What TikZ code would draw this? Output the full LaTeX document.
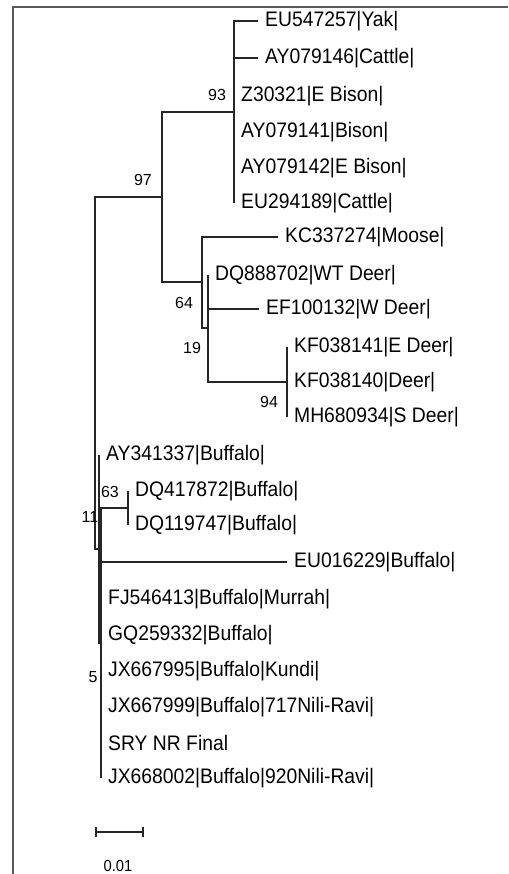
\documentclass[tikz,border=0pt]{standalone}
\usepackage{fontspec}
\setmainfont{Liberation Sans}
\newfontfamily\leaffont[FakeStretch=0.92]{Liberation Sans}
\tikzset{
  leaf/.style={anchor=west, inner xsep=7pt, inner ysep=0pt,
    font=\leaffont\fontsize{21}{24}\selectfont},
  boot/.style={inner sep=0pt, font=\fontsize{16}{18}\selectfont},
  branch/.style={line width=1.1pt, black!85}
}
\begin{document}
\begin{tikzpicture}[x=1pt, y=-1pt]
    \useasboundingbox (0,0) rectangle (508,874);
    % 1. Khung
    \draw[gray!70!black, line width=1.5pt] (508,7) -- (13,7) -- (13,874);

    % 2. Nut trong
    \coordinate (nroot) at (95,373);
    \coordinate (n97) at (162,197);
    \coordinate (n93) at (234,112);
    \coordinate (n64) at (202,282);
    \coordinate (n19) at (208,328);
    \coordinate (n94) at (287,382);
    \coordinate (n11) at (99,549);
    \coordinate (n5) at (101,643);
    \coordinate (n63) at (128,508);

    % 3. Cac la
    \node[leaf] (yak)    at (258,21)  {EU547257|Yak|};
    \node[leaf] (cat1)   at (258,58)  {AY079146|Cattle|};
    \node[leaf] (ebis1)  at (234,96)  {Z30321|E Bison|};
    \node[leaf] (bis)    at (234,132) {AY079141|Bison|};
    \node[leaf] (ebis2)  at (234,168) {AY079142|E Bison|};
    \node[leaf] (cat2)   at (234,203) {EU294189|Cattle|};
    \node[leaf] (moose)  at (278,237) {KC337274|Moose|};
    \node[leaf] (wtdeer) at (208,275) {DQ888702|WT Deer|};
    \node[leaf] (wdeer)  at (259,309) {EF100132|W Deer|};
    \node[leaf] (edeer)  at (287,347) {KF038141|E Deer|};
    \node[leaf] (deer)   at (287,382) {KF038140|Deer|};
    \node[leaf] (sdeer)  at (287,417) {MH680934|S Deer|};
    \node[leaf] (buf1)   at (99,455)  {AY341337|Buffalo|};
    \node[leaf] (buf2)   at (128,491) {DQ417872|Buffalo|};
    \node[leaf] (buf3)   at (128,525) {DQ119747|Buffalo|};
    \node[leaf] (buf4)   at (287,562) {EU016229|Buffalo|};
    \node[leaf] (murrah) at (101,599) {FJ546413|Buffalo|Murrah|};
    \node[leaf] (buf5)   at (101,635) {GQ259332|Buffalo|};
    \node[leaf] (kundi)  at (101,671) {JX667995|Buffalo|Kundi|};
    \node[leaf] (nili1)  at (101,707) {JX667999|Buffalo|717Nili-Ravi|};
    \node[leaf] (sry)    at (101,743) {SRY NR Final};
    \node[leaf] (nili2)  at (101,778) {JX668002|Buffalo|920Nili-Ravi|};

    % 4. Nhanh
    \draw[branch] (nroot) |- (n97);
    \draw[branch] (nroot) |- (n11);
    \draw[branch] (n97) |- (n93);
    \draw[branch] (n97) |- (n64);
    \foreach \l in {yak,cat1,ebis1,bis,ebis2,cat2}
        \draw[branch] (n93) |- (\l.west);
    \draw[branch] (n64) |- (moose.west);
    \draw[branch] (n64) |- (n19);
    \foreach \l in {wtdeer,wdeer}
        \draw[branch] (n19) |- (\l.west);
    \draw[branch] (n19) |- (n94);
    \foreach \l in {edeer,deer,sdeer}
        \draw[branch] (n94) |- (\l.west);
    \draw[branch] (n11) |- (buf1.west);
    \draw[branch] (n11) |- (n5);
    \draw[branch] (n5) |- (n63);
    \foreach \l in {buf2,buf3}
        \draw[branch] (n63) |- (\l.west);
    \foreach \l in {buf4,murrah,buf5,kundi,nili1,sry,nili2}
        \draw[branch] (n5) |- (\l.west);

    % 5. Gia tri bootstrap
    \node[boot] (b93) at (217,95)  {93};
    \node[boot] (b97) at (143,180) {97};
    \node[boot] (b64) at (184,303) {64};
    \node[boot] (b19) at (192,348) {19};
    \node[boot] (b94) at (269,402) {94};
    \node[boot] (b63) at (110,492) {63};
    \node[boot] (b11) at (90,517)  {11};
    \node[boot] (b5)  at (93,677)  {5};

    % 6. Thang do
    \coordinate (sbl) at (96,832);
    \coordinate (sbr) at (143,832);
    \draw[branch] (sbl) -- (sbr);
    \draw[branch] ([yshift=-5pt]sbl) -- ([yshift=5pt]sbl);
    \draw[branch] ([yshift=-5pt]sbr) -- ([yshift=5pt]sbr);
    \node[boot, font=\leaffont\fontsize{16}{18}\selectfont] (scale) at (118,866) {0.01};
\end{tikzpicture}
\end{document}
